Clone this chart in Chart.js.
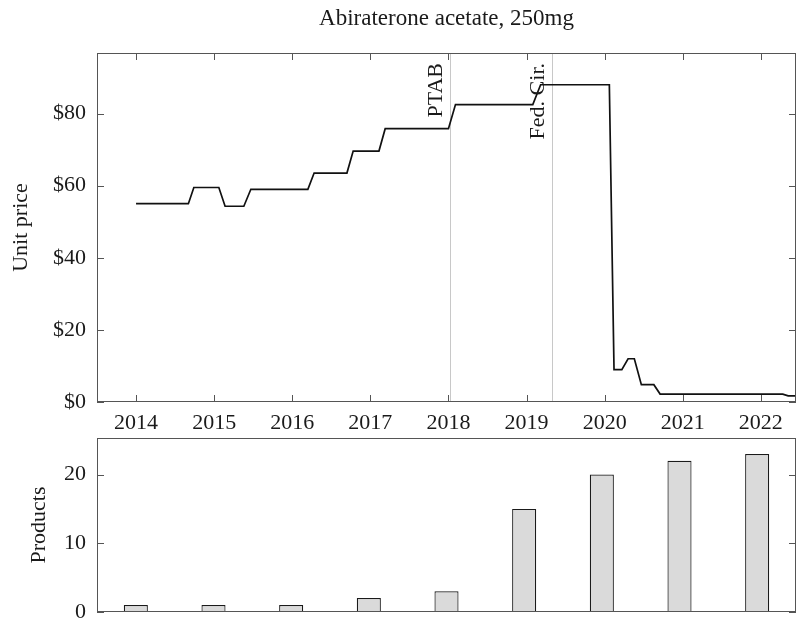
<!DOCTYPE html>
<html>
<head>
<meta charset="utf-8">
<script src="https://cdn.jsdelivr.net/npm/chart.js@4"></script>
<style>
  html, body { margin: 0; padding: 0; background: #fff; overflow: hidden; }
  #wrap { position: relative; width: 802px; height: 620px; overflow: hidden; }
  canvas { position: absolute; left: 0; }
  #priceChart { top: 0; }
  #prodChart { top: 414px; }
</style>
</head>
<body>
<div id="wrap">
  <canvas id="priceChart" width="802" height="440"></canvas>
  <canvas id="prodChart" width="802" height="222"></canvas>
</div>
<script>
// Data
const chartTitle = "Abiraterone acetate, 250mg";
const yearTicks = [2014, 2015, 2016, 2017, 2018, 2019, 2020, 2021, 2022];

// Unit price, corners of the step line (decimal year, dollars)
const priceDates = [2014.0, 2014.67, 2014.74, 2015.06, 2015.14, 2015.38, 2015.47,
  2016.2, 2016.28, 2016.7, 2016.78, 2017.11, 2017.19, 2018.0, 2018.09,
  2019.08, 2019.18, 2020.06, 2020.12, 2020.22, 2020.3, 2020.38, 2020.47,
  2020.63, 2020.71, 2022.28, 2022.35, 2022.45];
const priceValues = [55, 55, 59.5, 59.5, 54.3, 54.3, 59,
  59, 63.5, 63.5, 69.6, 69.6, 75.8, 75.8, 82.5,
  82.5, 88, 88, 9, 9, 12, 12, 4.8,
  4.8, 2.2, 2.2, 1.7, 1.7];
const priceTicks = [0, 20, 40, 60, 80];

// Vertical markers
const eventDates = [2018.02, 2019.33];
const eventLabels = ["PTAB", "Fed. Cir."];

// Number of products per year
const productYears = ["2014", "2015", "2016", "2017", "2018", "2019", "2020", "2021", "2022"];
const productCounts = [1, 1, 1, 2, 3, 15, 20, 22, 23];
const productTicks = [0, 10, 20];

const FAMILY = "'Liberation Serif', 'DejaVu Serif', serif";
const FONT = { family: FAMILY, size: 22 };
const TEXT = "#1a1a1a";
const FRAME = "#555";
const TICK_LEN = 7;

// frame + inward ticks on all four sides (pgfplots look)
function framePlugin(id, showXTicks, yTickValues, extra) {
  return {
    id: id,
    beforeDatasetsDraw(chart) {
      if (extra && extra.before) extra.before(chart);
    },
    afterDraw(chart) {
      const ctx = chart.ctx;
      const a = chart.chartArea;
      ctx.save();
      ctx.strokeStyle = FRAME;
      ctx.lineWidth = 1;
      ctx.strokeRect(Math.round(a.left) + 0.5, Math.round(a.top) + 0.5,
        Math.round(a.width) - 1, Math.round(a.height) - 1);
      ctx.beginPath();
      yTickValues.forEach(v => {
        const y = Math.round(chart.scales.y.getPixelForValue(v)) + 0.5;
        ctx.moveTo(a.left, y); ctx.lineTo(a.left + TICK_LEN, y);
        ctx.moveTo(a.right, y); ctx.lineTo(a.right - TICK_LEN, y);
      });
      if (showXTicks) {
        yearTicks.forEach(v => {
          const x = Math.round(chart.scales.x.getPixelForValue(v)) + 0.5;
          ctx.moveTo(x, a.bottom); ctx.lineTo(x, a.bottom - TICK_LEN);
          ctx.moveTo(x, a.top); ctx.lineTo(x, a.top + TICK_LEN);
        });
      }
      ctx.stroke();
      ctx.restore();
      if (extra && extra.after) extra.after(chart);
    }
  };
}

function drawEvents(chart) {
  const ctx = chart.ctx;
  const a = chart.chartArea;
  ctx.save();
  ctx.strokeStyle = "#c8c8c8";
  ctx.lineWidth = 1;
  eventDates.forEach(d => {
    const x = Math.round(chart.scales.x.getPixelForValue(d)) + 0.5;
    ctx.beginPath();
    ctx.moveTo(x, a.top);
    ctx.lineTo(x, a.bottom);
    ctx.stroke();
  });
  ctx.restore();
}

function drawLabels(chart) {
  const ctx = chart.ctx;
  const a = chart.chartArea;
  ctx.save();
  ctx.fillStyle = TEXT;
  // title centred over the plot
  ctx.font = "23px " + FAMILY;
  ctx.textAlign = "center";
  ctx.textBaseline = "middle";
  ctx.fillText(chartTitle, (a.left + a.right) / 2, 19);
  // rotated event labels
  ctx.font = FONT.size + "px " + FAMILY;
  ctx.textAlign = "right";
  ctx.textBaseline = "alphabetic";
  eventDates.forEach((d, i) => {
    const x = chart.scales.x.getPixelForValue(d);
    ctx.save();
    ctx.translate(x - 8, a.top + 10);
    ctx.rotate(-Math.PI / 2);
    ctx.fillText(eventLabels[i], 0, 0);
    ctx.restore();
  });
  ctx.restore();
}

new Chart(document.getElementById("priceChart"), {
  type: "line",
  data: {
    datasets: [{
      data: priceDates.map((d, i) => ({ x: d, y: priceValues[i] })),
      borderColor: "#111",
      borderWidth: 1.7,
      pointRadius: 0,
      tension: 0,
      fill: false
    }]
  },
  options: {
    responsive: false,
    animation: false,
    layout: { padding: { top: 53, right: 6, left: 0, bottom: 0 } },
    plugins: { legend: { display: false }, tooltip: { enabled: false } },
    scales: {
      x: {
        type: "linear",
        min: 2013.5,
        max: 2022.45,
        afterBuildTicks: s => { s.ticks = yearTicks.map(v => ({ value: v })); },
        afterFit: s => { s.height = 38; },
        grid: { display: false, drawTicks: false, tickLength: 0 },
        border: { display: false },
        ticks: { padding: 8, maxRotation: 0, autoSkip: false, color: TEXT, font: FONT,
          callback: v => String(v) }
      },
      y: {
        min: 0,
        max: 96.8,
        afterBuildTicks: s => { s.ticks = priceTicks.map(v => ({ value: v })); },
        afterFit: s => { s.width = 97; },
        grid: { display: false, drawTicks: false, tickLength: 0 },
        border: { display: false },
        ticks: { padding: 11, color: TEXT, font: FONT, callback: v => "$" + v },
        title: { display: true, text: "Unit price", color: TEXT, font: FONT,
          padding: { top: 8, bottom: 0 } }
      }
    }
  },
  plugins: [framePlugin("priceFrame", true, priceTicks, { before: drawEvents, after: drawLabels })]
});

new Chart(document.getElementById("prodChart"), {
  type: "bar",
  data: {
    labels: productYears,
    datasets: [{
      data: productCounts,
      backgroundColor: "#dadada",
      borderColor: "#1a1a1a",
      borderWidth: 1.2,
      barPercentage: 0.31,
      categoryPercentage: 1
    }]
  },
  options: {
    responsive: false,
    animation: false,
    layout: { padding: { top: 24, right: 6, left: 0, bottom: 24 } },
    plugins: { legend: { display: false }, tooltip: { enabled: false } },
    scales: {
      x: { display: false, offset: true, grid: { display: false } },
      y: {
        min: 0,
        max: 25.3,
        afterBuildTicks: s => { s.ticks = productTicks.map(v => ({ value: v })); },
        afterFit: s => { s.width = 97; },
        grid: { display: false, drawTicks: false, tickLength: 0 },
        border: { display: false },
        ticks: { padding: 11, color: TEXT, font: FONT },
        title: { display: true, text: "Products", color: TEXT, font: FONT,
          padding: { top: 26, bottom: 0 } }
      }
    }
  },
  plugins: [framePlugin("prodFrame", false, productTicks)]
});
</script>
</body>
</html>
